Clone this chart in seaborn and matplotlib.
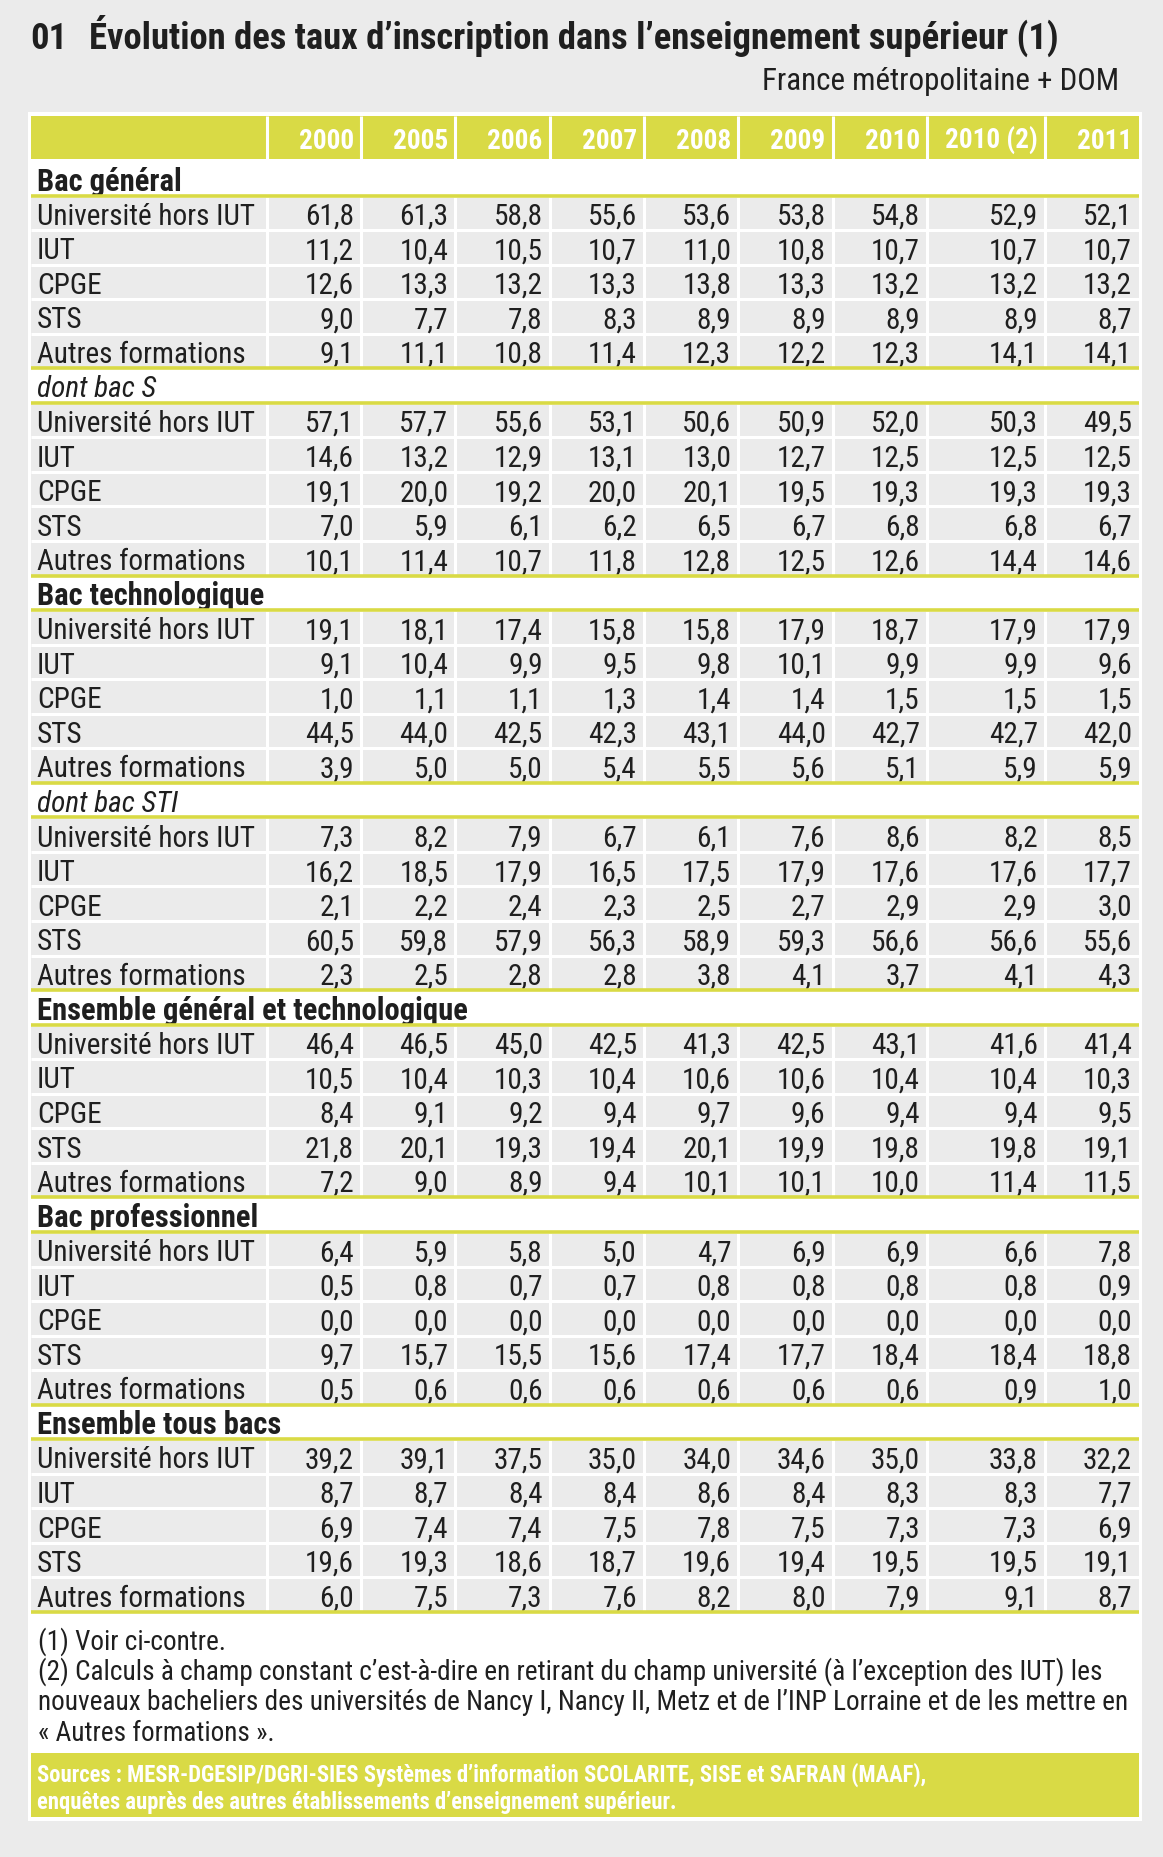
import numpy as np
import pandas as pd
import matplotlib
matplotlib.use("Agg")
import matplotlib.pyplot as plt
import seaborn as sns
from matplotlib.colors import ListedColormap
from matplotlib.patches import Rectangle
from matplotlib import font_manager as fm

# ---------------- data ----------------
title_num = "01"
title = "Évolution des taux d’inscription dans l’enseignement supérieur (1)"
subtitle = "France métropolitaine + DOM"

years = ["2000", "2005", "2006", "2007", "2008", "2009", "2010", "2010 (2)", "2011"]
formations = ["Université hors IUT", "IUT", "CPGE", "STS", "Autres formations"]
sections = ["Bac général", "dont bac S", "Bac technologique", "dont bac STI",
            "Ensemble général et technologique", "Bac professionnel", "Ensemble tous bacs"]
section_styles = ["bold", "italic", "bold", "italic", "bold", "bold", "bold"]

bac_general = [[61.8, 61.3, 58.8, 55.6, 53.6, 53.8, 54.8, 52.9, 52.1],
               [11.2, 10.4, 10.5, 10.7, 11.0, 10.8, 10.7, 10.7, 10.7],
               [12.6, 13.3, 13.2, 13.3, 13.8, 13.3, 13.2, 13.2, 13.2],
               [9.0, 7.7, 7.8, 8.3, 8.9, 8.9, 8.9, 8.9, 8.7],
               [9.1, 11.1, 10.8, 11.4, 12.3, 12.2, 12.3, 14.1, 14.1]]
dont_bac_s = [[57.1, 57.7, 55.6, 53.1, 50.6, 50.9, 52.0, 50.3, 49.5],
              [14.6, 13.2, 12.9, 13.1, 13.0, 12.7, 12.5, 12.5, 12.5],
              [19.1, 20.0, 19.2, 20.0, 20.1, 19.5, 19.3, 19.3, 19.3],
              [7.0, 5.9, 6.1, 6.2, 6.5, 6.7, 6.8, 6.8, 6.7],
              [10.1, 11.4, 10.7, 11.8, 12.8, 12.5, 12.6, 14.4, 14.6]]
bac_techno = [[19.1, 18.1, 17.4, 15.8, 15.8, 17.9, 18.7, 17.9, 17.9],
              [9.1, 10.4, 9.9, 9.5, 9.8, 10.1, 9.9, 9.9, 9.6],
              [1.0, 1.1, 1.1, 1.3, 1.4, 1.4, 1.5, 1.5, 1.5],
              [44.5, 44.0, 42.5, 42.3, 43.1, 44.0, 42.7, 42.7, 42.0],
              [3.9, 5.0, 5.0, 5.4, 5.5, 5.6, 5.1, 5.9, 5.9]]
dont_bac_sti = [[7.3, 8.2, 7.9, 6.7, 6.1, 7.6, 8.6, 8.2, 8.5],
                [16.2, 18.5, 17.9, 16.5, 17.5, 17.9, 17.6, 17.6, 17.7],
                [2.1, 2.2, 2.4, 2.3, 2.5, 2.7, 2.9, 2.9, 3.0],
                [60.5, 59.8, 57.9, 56.3, 58.9, 59.3, 56.6, 56.6, 55.6],
                [2.3, 2.5, 2.8, 2.8, 3.8, 4.1, 3.7, 4.1, 4.3]]
ensemble_gt = [[46.4, 46.5, 45.0, 42.5, 41.3, 42.5, 43.1, 41.6, 41.4],
               [10.5, 10.4, 10.3, 10.4, 10.6, 10.6, 10.4, 10.4, 10.3],
               [8.4, 9.1, 9.2, 9.4, 9.7, 9.6, 9.4, 9.4, 9.5],
               [21.8, 20.1, 19.3, 19.4, 20.1, 19.9, 19.8, 19.8, 19.1],
               [7.2, 9.0, 8.9, 9.4, 10.1, 10.1, 10.0, 11.4, 11.5]]
bac_pro = [[6.4, 5.9, 5.8, 5.0, 4.7, 6.9, 6.9, 6.6, 7.8],
           [0.5, 0.8, 0.7, 0.7, 0.8, 0.8, 0.8, 0.8, 0.9],
           [0.0, 0.0, 0.0, 0.0, 0.0, 0.0, 0.0, 0.0, 0.0],
           [9.7, 15.7, 15.5, 15.6, 17.4, 17.7, 18.4, 18.4, 18.8],
           [0.5, 0.6, 0.6, 0.6, 0.6, 0.6, 0.6, 0.9, 1.0]]
ensemble_tous = [[39.2, 39.1, 37.5, 35.0, 34.0, 34.6, 35.0, 33.8, 32.2],
                 [8.7, 8.7, 8.4, 8.4, 8.6, 8.4, 8.3, 8.3, 7.7],
                 [6.9, 7.4, 7.4, 7.5, 7.8, 7.5, 7.3, 7.3, 6.9],
                 [19.6, 19.3, 18.6, 18.7, 19.6, 19.4, 19.5, 19.5, 19.1],
                 [6.0, 7.5, 7.3, 7.6, 8.2, 8.0, 7.9, 9.1, 8.7]]
blocks = [bac_general, dont_bac_s, bac_techno, dont_bac_sti, ensemble_gt, bac_pro, ensemble_tous]

notes = ["(1) Voir ci-contre.",
         "(2) Calculs à champ constant c’est-à-dire en retirant du champ université (à l’exception des IUT) les",
         "nouveaux bacheliers des universités de Nancy I, Nancy II, Metz et de l’INP Lorraine et de les mettre en",
         "« Autres formations »."]
sources = ["Sources : MESR-DGESIP/DGRI-SIES Systèmes d’information SCOLARITE, SISE et SAFRAN (MAAF),",
           "enquêtes auprès des autres établissements d’enseignement supérieur."]

# ---------------- table frame ----------------
rows = []
for sec, sty, blk in zip(sections, section_styles, blocks):
    rows.append({"kind": "section", "label": sec, "style": sty, "values": None})
    for f, vals in zip(formations, blk):
        rows.append({"kind": "data", "label": f, "style": "normal", "values": vals})
table = pd.DataFrame(rows)
n_rows = len(table)

# ---------------- style ----------------
YELLOW = "#d9da45"
GRAY = "#ebebeb"
PAGE = "#ebebeb"
INK = "#1f1f1f"

avail = {f.name for f in fm.fontManager.ttflist}
FONT = next((n for n in ["Liberation Sans Narrow", "Roboto Condensed", "Open Sans Condensed",
                         "Noto Sans Condensed", "Liberation Sans", "Arial"] if n in avail), "DejaVu Sans")

W, H = 1163, 1858
fig = plt.figure(figsize=(W / 100, H / 100), dpi=100, facecolor=PAGE)

ax_bg = fig.add_axes([0, 0, 1, 1])
ax_bg.set_xlim(0, W)
ax_bg.set_ylim(H, 0)
ax_bg.axis("off")

renderer = fig.canvas.get_renderer()


def measure(s, size, **kw):
    t = ax_bg.text(0, 0, s, fontsize=size, family=FONT, **kw)
    w = t.get_window_extent(renderer=renderer).width
    t.remove()
    return w


def cap_px(size, **kw):
    # pixel height of capital letters (for optical vertical centring)
    t = ax_bg.text(0, 0, "HIUT", fontsize=size, family=FONT, va="baseline", **kw)
    h = t.get_window_extent(renderer=renderer)
    t2 = ax_bg.text(0, 0, "HIUT", fontsize=size, family=FONT, va="top", **kw)
    h2 = t2.get_window_extent(renderer=renderer)
    t.remove()
    t2.remove()
    # height above baseline = total height - descent; approximate using font cap ratio
    return 0.711 * size * 100 / 72


def fit(s, target, **kw):
    return 20.0 * target / measure(s, 20.0, **kw)


body_size = fit("Université hors IUT", 218)
sec_size = fit("Ensemble général et technologique", 430, weight="bold")
head_size = fit("2010 (2)", 93, weight="bold")
title_size = fit(title, 970, weight="bold")
sub_size = fit(subtitle, 356)
note_size = fit(notes[2], 1084)
src_size = fit(sources[0], 891, weight="bold")

# panel & source box
ax_bg.add_patch(Rectangle((28, 113), 1114, 1709, fc="white", ec="none", zorder=0))
ax_bg.add_patch(Rectangle((31, 1754), 1108, 64, fc=YELLOW, ec="none", zorder=1))

# titles
ax_bg.text(30, 36 + cap_px(title_size) / 2, title_num, fontsize=title_size, weight="bold",
           family=FONT, color=INK, va="baseline")
ax_bg.text(89, 36 + cap_px(title_size) / 2, title, fontsize=title_size, weight="bold",
           family=FONT, color=INK, va="baseline")
ax_bg.text(1119, 79 + cap_px(sub_size) / 2, subtitle, fontsize=sub_size, family=FONT, color=INK,
           va="baseline", ha="right")

# notes
for y, line in zip([1640, 1670, 1700, 1731], notes):
    ax_bg.text(38, y + cap_px(note_size) / 2, line, fontsize=note_size, family=FONT, color=INK,
               va="baseline")
for y, line in zip([1774, 1801], sources):
    ax_bg.text(37, y + cap_px(src_size) / 2, line, fontsize=src_size, weight="bold", family=FONT,
               color="white", va="baseline")

# ---------------- grid geometry ----------------
col_units = [10, 4, 4, 4, 4, 4, 4, 4, 5, 4]   # label column + 9 year columns
edges = np.concatenate([[0], np.cumsum(col_units)])
n_units = int(edges[-1])
X0, X1 = 31, 1139
TAB_TOP, TAB_BOT = 162, 1613
HEAD_TOP, HEAD_BOT = 117, 160
ux = (X1 - X0) / n_units
row_px = (TAB_BOT - TAB_TOP) / n_rows
head_px = HEAD_BOT - HEAD_TOP

# header heatmap
ax_head = fig.add_axes([X0 / W, 1 - HEAD_BOT / H, (X1 - X0) / W, head_px / H])
sns.heatmap(np.ones((1, n_units)), cmap=ListedColormap([YELLOW]), vmin=0, vmax=1, cbar=False,
            xticklabels=False, yticklabels=False, ax=ax_head)
ax_head.set_xlim(0, n_units)
ax_head.set_ylim(1, 0)
ax_head.axis("off")
ax_head.vlines(edges[1:-1], 0, 1, colors="white", lw=2.2)
head_base = 0.5 + (cap_px(head_size) / 2 + 1) / head_px
for j, yr in enumerate(years):
    ax_head.text(edges[j + 2] - 7 / ux, head_base, yr, fontsize=head_size, weight="bold",
                 family=FONT, color="white", ha="right", va="baseline")

# body heatmap (grey cells for data rows, white for section rows)
is_data = (table["kind"] == "data").to_numpy()
fill = np.where(is_data[:, None], 0.0, np.nan) * np.ones((1, n_units))
ax_tab = fig.add_axes([X0 / W, 1 - TAB_BOT / H, (X1 - X0) / W, (TAB_BOT - TAB_TOP) / H])
sns.heatmap(pd.DataFrame(fill), mask=np.isnan(fill), cmap=ListedColormap([GRAY]), vmin=0, vmax=1,
            cbar=False, xticklabels=False, yticklabels=False, ax=ax_tab)
ax_tab.set_xlim(0, n_units)
ax_tab.set_ylim(n_rows, 0)
ax_tab.axis("off")

ax_tab.vlines(edges[1:-1], 0, n_rows, colors="white", lw=2.2)
ax_tab.hlines(np.arange(1, n_rows), 0, n_units, colors="white", lw=2.2)

sec_idx = np.where(~is_data)[0]
ylines = sorted(set([i for i in sec_idx if i > 0] + [i + 1 for i in sec_idx] + [n_rows]))
ax_tab.hlines(ylines, 0, n_units, colors=YELLOW, lw=2.6, clip_on=False, zorder=5)

body_off = (cap_px(body_size) / 2 + 0.5) / row_px
sec_off = (cap_px(sec_size) / 2 + 0.5) / row_px
for i, r in table.iterrows():
    yc = i + 0.5
    if r["kind"] == "section":
        if r["style"] == "bold":
            ax_tab.text(6 / ux, yc + sec_off, r["label"], fontsize=sec_size, weight="bold",
                        family=FONT, color=INK, va="baseline", ha="left")
        else:
            ax_tab.text(6 / ux, yc + body_off, r["label"], fontsize=body_size, style="italic",
                        family=FONT, color=INK, va="baseline", ha="left")
    else:
        ax_tab.text(6 / ux, yc + body_off, r["label"], fontsize=body_size, family=FONT, color=INK,
                    va="baseline", ha="left")
        for j, v in enumerate(r["values"]):
            ax_tab.text(edges[j + 2] - 7 / ux, yc + body_off, f"{v:.1f}".replace(".", ","),
                        fontsize=body_size, family=FONT, color=INK, va="baseline", ha="right")

fig.savefig("out.png", dpi=100, facecolor=fig.get_facecolor())
